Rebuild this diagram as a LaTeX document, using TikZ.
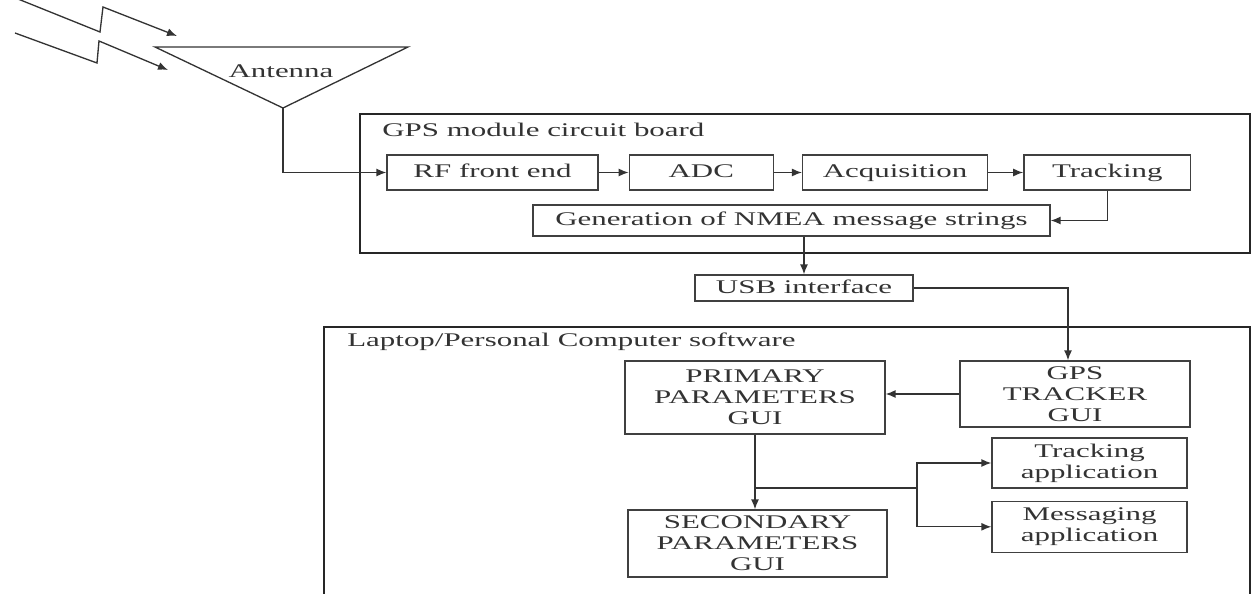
\documentclass[tikz,border=0pt]{standalone}
\usepackage{fontspec}
\setmainfont{Liberation Serif}[FakeStretch=1.6]
\usetikzlibrary{positioning,arrows.meta}

\begin{document}
\begin{tikzpicture}[
    x=0.02cm, y=-0.02cm,
    box/.style={rectangle, draw=black!75, line width=0.75pt, minimum height=0.7cm, inner sep=1pt, align=center, text=black!80, font=\fontsize{11}{12}\selectfont},
    oneline/.style={text height=1.55ex, text depth=0.3ex},
    frame/.style={rectangle, draw=black!85, line width=1pt},
    title/.style={anchor=west, inner sep=0pt, text=black!80, font=\fontsize{11}{12}\selectfont},
    arrow/.style={-{Latex[length=2mm,width=1.6mm]}, draw=black!80, line width=0.75pt},
    line/.style={draw=black!80, line width=0.75pt}
]
\useasboundingbox (0,0) rectangle (1254,594);

% Incoming signals and antenna
\draw[arrow] (18,-1) -- (100,32) -- (103,7) -- (177,36);
\draw[arrow] (15,33) -- (97,63) -- (99,41) -- (168,70);
\coordinate (antl) at (155,47);
\coordinate (antr) at (408,47);
\coordinate (anttip) at (283,108);
\draw[line] (antl) -- (antr) -- (anttip) -- cycle;
\node[title, anchor=center] (antenna) at (281,71) {Antenna};

% GPS module board
\node[frame, minimum width=17.8cm, minimum height=2.78cm] (board) at (805,183.5) {};
\node[title] (boardtitle) at (382,130) {GPS module circuit board};
\node[box, oneline, minimum width=4.22cm] (rf) at (492.5,172.5) {RF front end};
\node[box, oneline, minimum width=2.88cm, right=0.6cm of rf] (adc) {ADC};
\node[box, oneline, minimum width=3.7cm, right=0.56cm of adc] (acq) {Acquisition};
\node[box, oneline, minimum width=3.34cm, right=0.7cm of acq] (trk) {Tracking};
\node[box, oneline, minimum width=10.34cm, minimum height=0.62cm] (gen) at (791.5,220.5) {Generation of NMEA message strings};

% USB link
\node[box, oneline, minimum width=4.36cm, minimum height=0.52cm] (usb) at (804,288) {USB interface};

% Laptop software
\node[frame, minimum width=18.52cm, minimum height=5.72cm] (laptop) at (787,470) {};
\node[title] (laptoptitle) at (347,342) {Laptop/Personal Computer software};
\node[box, minimum width=5.2cm, minimum height=1.46cm] (prim) at (755,397.5) {PRIMARY\\PARAMETERS\\GUI};
\node[box, minimum width=5.18cm, minimum height=1.34cm] (sec) at (757.5,543.5) {SECONDARY\\PARAMETERS\\GUI};
\node[box, minimum width=4.6cm, minimum height=1.32cm] (gtr) at (1075,394) {GPS\\TRACKER\\GUI};
\node[box, minimum width=3.9cm, minimum height=1cm] (tapp) at (1089.5,463) {Tracking\\application};
\node[box, minimum width=3.9cm, minimum height=1.02cm, below=0.24cm of tapp] (mapp) {Messaging\\application};

% Arrows on the board
\draw[arrow] (anttip) |- (rf.west);
\draw[arrow] (rf) -- (adc);
\draw[arrow] (adc) -- (acq);
\draw[arrow] (acq) -- (trk);
\draw[arrow] (trk.south) |- (gen.east);
\draw[arrow] (usb.north |- gen.south) -- (usb.north);

% Arrows to the laptop
\draw[arrow] (usb.east) -| ([xshift=-0.14cm]gtr.north);
\draw[arrow] (gtr.west) -- (gtr.west -| prim.east);
\draw[arrow] (prim.south) -- (prim.south |- sec.north);
\coordinate (split) at (917,488);
\draw[line] (prim.south |- split) -- (split);
\draw[arrow] (split) |- (tapp.west);
\draw[arrow] (split) |- (mapp.west);

\end{tikzpicture}
\end{document}
